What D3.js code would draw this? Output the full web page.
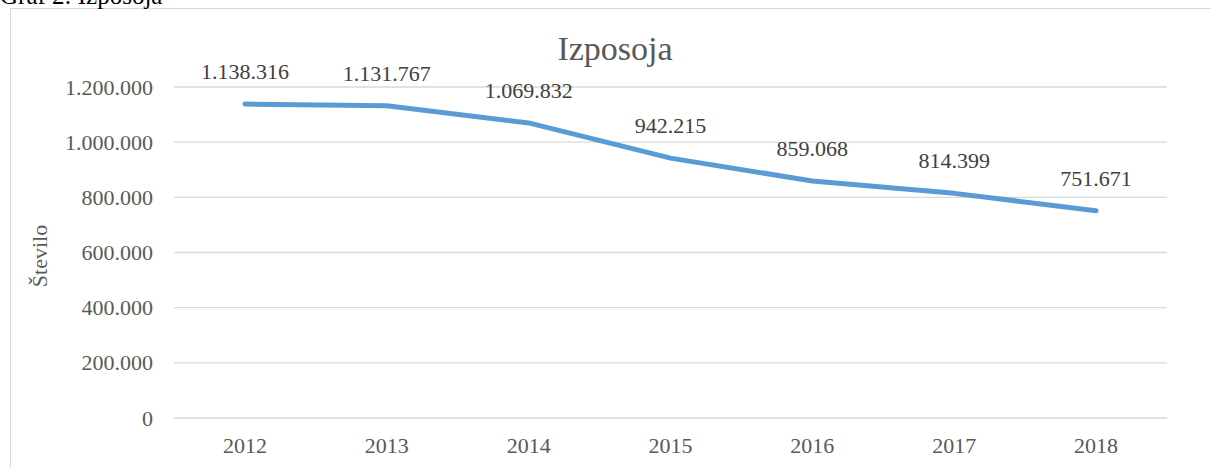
<!DOCTYPE html>
<html>
<head>
<meta charset="utf-8">
<script src="https://cdn.jsdelivr.net/npm/d3@7"></script>
<style>
  body { margin: 0; background: #fff; }
  svg { display: block; }
  svg text { font-family: "Liberation Serif", "DejaVu Serif", serif; }
</style>
</head>
<body>
<svg id="chart"></svg>
<script>
const years = ["2012", "2013", "2014", "2015", "2016", "2017", "2018"];
const loans = [1138316, 1131767, 1069832, 942215, 859068, 814399, 751671];
const yTicks = [0, 200000, 400000, 600000, 800000, 1000000, 1200000];

const W = 1211, H = 468;
const svg = d3.select("#chart").attr("width", W).attr("height", H);

const margin = { top: 87, right: 44, bottom: 50, left: 174 };
const width = W - margin.left - margin.right;
const height = 418 - margin.top;

// outer chart frame (runs off right/bottom)
svg.append("rect")
  .attr("x", 10.5).attr("y", 8.5)
  .attr("width", 1300).attr("height", 600)
  .attr("fill", "none")
  .attr("stroke", "#d9d9d9")
  .attr("stroke-width", 1);

// caption, cut off at the top edge
svg.append("text")
  .attr("x", 0).attr("y", 4)
  .style("font-size", "25px")
  .style("fill", "#000")
  .text("Graf 2: Izposoja");

const g = svg.append("g").attr("transform", `translate(${margin.left},${margin.top})`);

const x = d3.scaleBand().domain(years).range([0, width]);
const y = d3.scaleLinear().domain([0, 1200000]).range([height, 0]);

const fmt = (v) => d3.format(",")(v).replace(/,/g, ".");

// gridlines
g.selectAll(".grid")
  .data(yTicks)
  .enter()
  .append("line")
  .attr("x1", 0).attr("x2", width)
  .attr("y1", (d) => y(d)).attr("y2", (d) => y(d))
  .attr("stroke", "#d9d9d9")
  .attr("stroke-width", 1.3);

// y axis labels
const yAxis = g.append("g")
  .call(d3.axisLeft(y).tickValues(yTicks).tickFormat(fmt).tickSize(0).tickPadding(21));
yAxis.select(".domain").remove();
yAxis.selectAll("text")
  .style("font-family", "'Liberation Serif', serif")
  .style("font-size", "22px")
  .style("fill", "#595959");

// x axis labels
const xAxis = g.append("g")
  .attr("transform", `translate(0,${height})`)
  .call(d3.axisBottom(x).tickSize(0).tickPadding(19));
xAxis.select(".domain").remove();
xAxis.selectAll("text")
  .style("font-family", "'Liberation Serif', serif")
  .style("font-size", "22px")
  .style("fill", "#595959");

// line
const line = d3.line()
  .x((d, i) => x(years[i]) + x.bandwidth() / 2)
  .y((d) => y(d));

g.append("path")
  .datum(loans)
  .attr("d", line)
  .attr("fill", "none")
  .attr("stroke", "#5b9bd5")
  .attr("stroke-width", 5)
  .attr("stroke-linecap", "round")
  .attr("stroke-linejoin", "round");

// data labels
g.selectAll(".val")
  .data(loans)
  .enter()
  .append("text")
  .attr("x", (d, i) => x(years[i]) + x.bandwidth() / 2)
  .attr("y", (d) => y(d) - 25)
  .attr("text-anchor", "middle")
  .style("font-size", "22px")
  .style("fill", "#404040")
  .text(fmt);

// title
svg.append("text")
  .attr("x", 615).attr("y", 60)
  .attr("text-anchor", "middle")
  .style("font-size", "34px")
  .style("fill", "#595959")
  .text("Izposoja");

// y axis title
svg.append("text")
  .attr("transform", "translate(47,256) rotate(-90)")
  .attr("text-anchor", "middle")
  .style("font-size", "22px")
  .style("fill", "#595959")
  .text("Število");
</script>
</body>
</html>
